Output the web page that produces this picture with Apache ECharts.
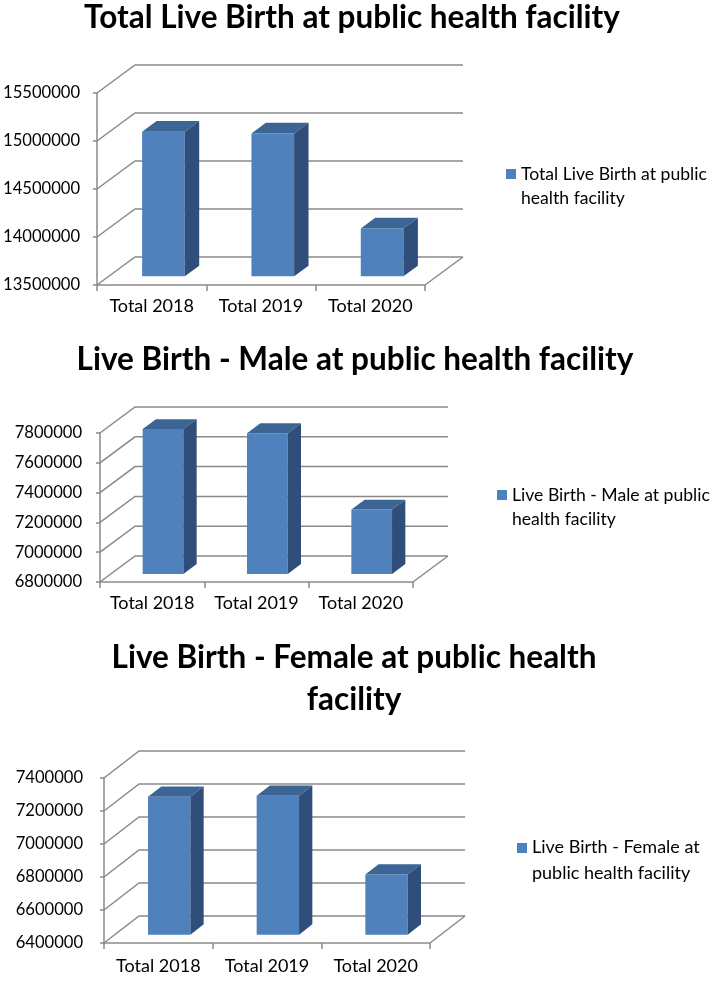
<!DOCTYPE html>
<html><head><meta charset="utf-8">
<script src="https://cdn.jsdelivr.net/npm/echarts@6/dist/echarts.min.js"></script>
<style>html,body{margin:0;padding:0;background:#fff}#c{width:715px;height:991px}</style>
</head><body><div id="c"></div>
<script>
// ---- data ----
const categories = ['Total 2018', 'Total 2019', 'Total 2020'];
const totalValues = [15006000, 14989000, 13998000];
const maleValues = [7772000, 7745000, 7232000];
const femaleValues = [7236000, 7242000, 6765000];
const totalTicks = [13500000, 14000000, 14500000, 15000000, 15500000];
const maleTicks = [6800000, 7000000, 7200000, 7400000, 7600000, 7800000];
const femaleTicks = [6400000, 6600000, 6800000, 7000000, 7200000, 7400000];
const totalName = 'Total Live Birth at public health facility';
const maleName = 'Live Birth - Male at public health facility';
const femaleName = 'Live Birth - Female at public health facility';
const totalTitle = 'Total Live Birth at public health facility';
const maleTitle = 'Live Birth - Male at public health facility';
const femaleTitle = 'Live Birth - Female at public health\nfacility';
const totalLegendText = 'Total Live Birth at public\nhealth facility';
const maleLegendText = 'Live Birth - Male at public\nhealth facility';
const femaleLegendText = 'Live Birth - Female at\npublic health facility';

// ---- styling / layout ----
const FONT = 'Lato, "Open Sans", sans-serif';
const GRID_COLOR = '#8a8a8a';
const FRONT = '#4F81BD', TOP = '#3C6494', SIDE = '#2F4E79';
function measure(text, size, weight) {
  const ctx = document.createElement('canvas').getContext('2d');
  ctx.font = weight + ' ' + size + 'px ' + FONT;
  return ctx.measureText(text).width;
}
const titleSize = Math.round(100 * 536 / measure(totalTitle, 100, 'bold') * 10) / 10;

const panels = [
  { name: totalName, values: totalValues, ticks: totalTicks, grid: { left: 97, top: 93, width: 328, height: 192 },
    depth: [38, -28], title: totalTitle, titleCx: 352, titleTop: 18 - 21, legendText: totalLegendText,
    legendLeft: 506, legendIconTop: 169, legendLH: 24, legendSize: 17.6, yMargin: 17, xMargin: 12 },
  { name: maleName, values: maleValues, ticks: maleTicks, grid: { left: 100, top: 433, width: 313, height: 149 },
    depth: [35, -26], title: maleTitle, titleCx: 355, titleTop: 360 - 21, legendText: maleLegendText,
    legendLeft: 497, legendIconTop: 490, legendLH: 24, legendSize: 17.6, yMargin: 18, xMargin: 12 },
  { name: femaleName, values: femaleValues, ticks: femaleTicks, grid: { left: 104, top: 778, width: 326, height: 165 },
    depth: [35, -27], title: femaleTitle, titleCx: 354, titleTop: 679 - 42, legendText: femaleLegendText,
    legendLeft: 517, legendIconTop: 843, legendLH: 26, legendSize: 18, yMargin: 21, xMargin: 14 }
];

const ICON = 'path://M0,0H10V10H0Z M0,34H10';
const D0 = 0.31, D1 = 0.69, BARW = 0.39;

function gridRenderer(depth) {
  return function (params, api) {
    const cs = params.coordSys;
    const v = api.value(1);
    const y = api.coord([0, v])[1];
    const L = cs.x, R = cs.x + cs.width;
    const dx = depth[0], dy = depth[1];
    const st = { stroke: GRID_COLOR, lineWidth: 1.5, fill: null };
    const children = [{ type: 'polyline', shape: { points: [[L, y], [L + dx, y + dy], [R + dx, y + dy]] }, style: st }];
    if (params.dataIndex === 0) {
      children.push({ type: 'line', shape: { x1: R, y1: y, x2: R + dx, y2: y + dy }, style: st });
    }
    return { type: 'group', children };
  };
}
function barRenderer(depth, yMin) {
  return function (params, api) {
    const i = api.value(0), v = api.value(1);
    const top = api.coord([i, v]);
    const base = api.coord([i, yMin]);
    const w = api.size([1, 0])[0] * BARW;
    const dx = depth[0], dy = depth[1];
    const x0 = top[0] - w / 2 + D0 * dx, x1 = x0 + w;
    const yt = top[1] + D0 * dy, yb = base[1] + D0 * dy;
    const ddx = (D1 - D0) * dx, ddy = (D1 - D0) * dy;
    return { type: 'group', children: [
      { type: 'polygon', shape: { points: [[x0, yt], [x1, yt], [x1, yb], [x0, yb]] }, style: { fill: FRONT } },
      { type: 'polygon', shape: { points: [[x0, yt], [x1, yt], [x1 + ddx, yt + ddy], [x0 + ddx, yt + ddy]] }, style: { fill: TOP } },
      { type: 'polygon', shape: { points: [[x1, yt], [x1 + ddx, yt + ddy], [x1 + ddx, yb + ddy], [x1, yb]] }, style: { fill: SIDE } }
    ] };
  };
}

const option = {
  backgroundColor: '#ffffff',
  animation: false,
  title: [], legend: [], grid: [], xAxis: [], yAxis: [], series: []
};
panels.forEach((p, k) => {
  const ticks = p.ticks;
  const yMin = ticks[0], yMax = ticks[ticks.length - 1];
  option.title.push({
    text: p.title, left: p.titleCx, top: p.titleTop, textAlign: 'center', padding: 0,
    textStyle: { fontFamily: FONT, fontWeight: 'bold', fontSize: titleSize, lineHeight: 42, color: '#000' }
  });
  const lt = p.legendText;
  option.legend.push({
    data: [{ name: p.name, icon: ICON }], left: p.legendLeft, top: p.legendIconTop - (p.legendLH - 17), padding: 0,
    orient: 'vertical', itemWidth: 10, itemHeight: 34, itemGap: 0, selectedMode: false,
    formatter: () => lt,
    textStyle: { fontFamily: FONT, fontSize: p.legendSize, lineHeight: p.legendLH, color: '#000' }
  });
  option.grid.push(Object.assign({ containLabel: false, outerBoundsMode: 'none' }, p.grid));
  option.xAxis.push({
    type: 'category', gridIndex: k, data: categories,
    axisLine: { show: true, lineStyle: { color: GRID_COLOR, width: 1.5 } },
    axisTick: { show: true, length: 6, alignWithLabel: false, lineStyle: { color: GRID_COLOR, width: 1.5 } },
    axisLabel: { margin: p.xMargin, fontFamily: FONT, fontSize: 18, color: '#000', interval: 0 },
    splitLine: { show: false }
  });
  option.yAxis.push({
    type: 'value', gridIndex: k, min: yMin, max: yMax, interval: ticks[1] - ticks[0],
    axisLine: { show: true, lineStyle: { color: GRID_COLOR, width: 1.5 } },
    axisTick: { show: true, length: 4, lineStyle: { color: GRID_COLOR, width: 1.5 } },
    axisLabel: { margin: p.yMargin, fontFamily: FONT, fontSize: 16.6, color: '#000', showMinLabel: true, showMaxLabel: true,
      formatter: (v) => String(Math.round(v)) },
    splitLine: { show: false }
  });
  option.series.push({
    type: 'custom', name: p.name + ' grid', xAxisIndex: k, yAxisIndex: k, z: 1, silent: true, clip: false,
    renderItem: gridRenderer(p.depth), data: ticks.map(t => [0, t])
  });
  option.series.push({
    type: 'custom', name: p.name, xAxisIndex: k, yAxisIndex: k, z: 2, clip: false,
    itemStyle: { color: FRONT },
    renderItem: barRenderer(p.depth, yMin), data: p.values.map((v, i) => [i, v])
  });
});
const chart = echarts.init(document.getElementById('c'), null, { renderer: 'canvas', width: 715, height: 991 });
chart.setOption(option);
</script>
</body></html>
